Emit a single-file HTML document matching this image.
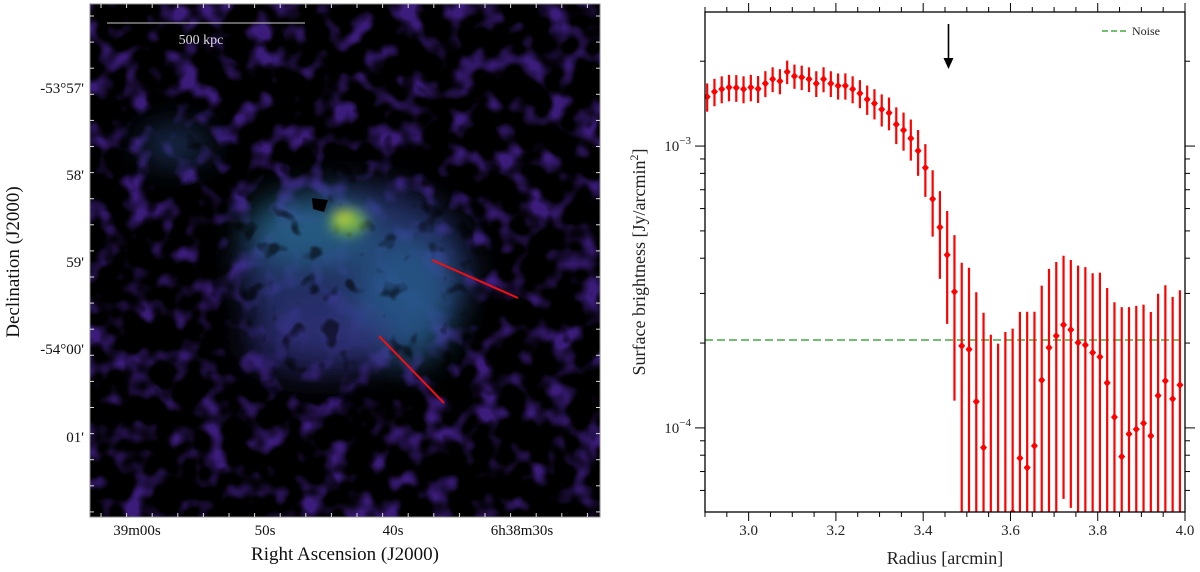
<!DOCTYPE html>
<html><head><meta charset="utf-8"><style>
html,body{margin:0;padding:0;background:#fff;width:1200px;height:572px;overflow:hidden}
svg{display:block;font-family:"Liberation Serif","DejaVu Serif",serif}
</style></head><body>
<svg id="fig" width="1200" height="572" viewBox="0 0 1200 572">
<defs>
<filter id="noise" x="0" y="0" width="100%" height="100%" color-interpolation-filters="sRGB">
<feTurbulence type="fractalNoise" baseFrequency="0.04" numOctaves="2" seed="7" result="t"/>
<feColorMatrix in="t" type="matrix" values="0 0 0 0 0.23  0 0 0 0 0.11  0 0 0 0 0.48  4 0 0 0 -1.95" result="c"/>
</filter>
<filter id="noise2" x="0" y="0" width="100%" height="100%" color-interpolation-filters="sRGB">
<feTurbulence type="fractalNoise" baseFrequency="0.05" numOctaves="2" seed="3" result="t"/>
<feColorMatrix in="t" type="matrix" values="0 0 0 0 0  0 0 0 0 0  0 0 0 0 0  -6 0 0 0 2.4"/>
</filter>
<filter id="blur8" x="-50%" y="-50%" width="200%" height="200%"><feGaussianBlur stdDeviation="16"/></filter>
<filter id="blur4" x="-100%" y="-100%" width="300%" height="300%"><feGaussianBlur stdDeviation="6"/></filter>
<clipPath id="imgclip"><rect x="90" y="4" width="510" height="513"/></clipPath>
<clipPath id="plotclip"><rect x="705" y="12" width="480" height="500"/></clipPath>
</defs>

<g clip-path="url(#imgclip)">
<rect x="90" y="4" width="510" height="513" fill="#000"/>
<rect x="90" y="4" width="510" height="513" filter="url(#noise)"/>
<g filter="url(#blur8)">
<ellipse cx="355" cy="270" rx="115" ry="85" fill="#2f3f88" opacity="0.7"/>
<ellipse cx="405" cy="300" rx="50" ry="65" fill="#2a5f8e" opacity="0.75"/>
<ellipse cx="310" cy="230" rx="65" ry="35" fill="#2a6a8c" opacity="0.75"/>
<ellipse cx="175" cy="145" rx="35" ry="18" fill="#2c5090" opacity="0.6"/>
<ellipse cx="320" cy="340" rx="75" ry="35" fill="#30307a" opacity="0.7"/>
</g>
<rect x="90" y="4" width="510" height="513" filter="url(#noise2)" opacity="0.55"/>
<g filter="url(#blur4)">
<ellipse cx="348" cy="222" rx="18" ry="13" fill="#6fae4a"/>
<ellipse cx="343" cy="217" rx="8" ry="6" fill="#c8d838"/>
</g>
<polygon points="312,198 328,200 324,212 313,209" fill="#000"/>
<line x1="107" y1="23" x2="305" y2="23" stroke="#ccc" stroke-width="1"/>
<text x="201" y="44" font-size="14" fill="#ddd" text-anchor="middle">500 kpc</text>
<line x1="432" y1="260" x2="518" y2="298" stroke="#f01010" stroke-width="2"/>
<line x1="379" y1="336" x2="444" y2="403" stroke="#f01010" stroke-width="2"/>
</g>
<rect x="90" y="4" width="510" height="513" fill="none" stroke="#888" stroke-width="1"/>
<g id="imgticks"></g>
<g font-size="15" fill="#111">
<text x="84" y="93" text-anchor="end">-53°57'</text>
<text x="84" y="180" text-anchor="end">58'</text>
<text x="84" y="267" text-anchor="end">59'</text>
<text x="84" y="354" text-anchor="end">-54°00'</text>
<text x="84" y="442" text-anchor="end">01'</text>
</g>
<g font-size="15" fill="#111" text-anchor="middle">
<text x="137" y="535">39m00s</text>
<text x="265" y="535">50s</text>
<text x="393" y="535">40s</text>
<text x="522" y="535">6h38m30s</text>
</g>
<text x="345" y="560" font-size="19" text-anchor="middle" fill="#111">Right Ascension (J2000)</text>
<text transform="translate(19,262) rotate(-90)" font-size="19" text-anchor="middle" fill="#111">Declination (J2000)</text>

<g>
<g id="ticks"></g>
<line id="noiseline" stroke="#5cb85c" stroke-width="1.8" stroke-dasharray="8,4"/>
<g id="series" clip-path="url(#plotclip)"></g>
<rect x="705" y="12" width="480" height="500" fill="none" stroke="#000" stroke-width="1.3"/>
<g id="arrow"></g>
<line x1="1102" y1="31" x2="1126" y2="31" stroke="#5cb85c" stroke-width="1.8" stroke-dasharray="6,3"/>
<text x="1132" y="35" font-size="12" fill="#222">Noise</text>
<text transform="translate(645,262) rotate(-90)" font-size="18" text-anchor="middle" fill="#222">Surface brightness [Jy/arcmin<tspan dy="-7" font-size="12">2</tspan><tspan dy="7">]</tspan></text>
<text x="945" y="564" font-size="18" text-anchor="middle" fill="#222">Radius [arcmin]</text>
</g>
</svg>
<script>
const NS='http://www.w3.org/2000/svg';
const values=[1.496e-3,1.558e-3,1.593e-3,1.615e-3,1.610e-3,1.593e-3,1.615e-3,1.597e-3,1.668e-3,1.728e-3,1.700e-3,1.834e-3,1.771e-3,1.754e-3,1.728e-3,1.668e-3,1.728e-3,1.668e-3,1.636e-3,1.636e-3,1.593e-3,1.538e-3,1.465e-3,1.417e-3,1.349e-3,1.312e-3,1.194e-3,1.139e-3,1.065e-3,9.62e-4,8.38e-4,6.49e-4,5.15e-4,4.11e-4,3.04e-4,1.954e-4,1.90e-4,1.24e-4,8.51e-5,4.0e-5,3.5e-5,4.2e-5,5.01e-5,7.81e-5,7.23e-5,8.63e-5,1.477e-4,1.927e-4,2.12e-4,2.32e-4,2.23e-4,2.006e-4,1.968e-4,1.849e-4,1.786e-4,1.445e-4,1.092e-4,7.91e-5,9.51e-5,9.89e-5,1.039e-4,9.37e-5,1.302e-4,1.468e-4,1.267e-4,1.419e-4];
const errors=[1.72e-4,1.74e-4,1.75e-4,1.74e-4,1.75e-4,1.75e-4,1.74e-4,1.75e-4,1.76e-4,1.75e-4,1.74e-4,1.76e-4,1.75e-4,1.75e-4,1.74e-4,1.75e-4,1.76e-4,1.75e-4,1.74e-4,1.75e-4,1.75e-4,1.76e-4,1.75e-4,1.74e-4,1.76e-4,1.75e-4,1.78e-4,1.76e-4,1.77e-4,1.78e-4,1.78e-4,1.72e-4,1.77e-4,1.77e-4,1.79e-4,1.90e-4,1.80e-4,1.79e-4,1.71e-4,1.74e-4,1.64e-4,1.77e-4,1.75e-4,1.80e-4,1.86e-4,1.72e-4,1.72e-4,1.74e-4,1.76e-4,1.76e-4,1.71e-4,1.76e-4,1.75e-4,1.69e-4,1.77e-4,1.69e-4,1.70e-4,1.89e-4,1.73e-4,1.72e-4,1.70e-4,1.64e-4,1.69e-4,1.74e-4,1.65e-4,1.66e-4];
const radiusStart=2.905;
const radiusStep=1/60;
const noiseLevel=2.05e-4;
const arrowRadius=3.458;
const xTickLabels=['3.0','3.2','3.4','3.6','3.8','4.0'];

const X0=705,X1=1185,Y0=12,Y1=512,xmin=2.9,xmax=4.0;
const ytop=Math.log10(2.99e-3),ybot=Math.log10(5.03e-5);
const xs=v=>X0+(v-xmin)/(xmax-xmin)*(X1-X0);
const ys=v=>{if(v<=0)return Y1+4;return Math.min(Y1+4,Y0+(ytop-Math.log10(v))/(ytop-ybot)*(Y1-Y0));};
function mk(tag,attrs,parent){const e=document.createElementNS(NS,tag);for(const k in attrs)e.setAttribute(k,attrs[k]);parent.appendChild(e);return e;}

const ticks=document.getElementById('ticks');
for(let i=0;i<=22;i++){const v=xmin+i*0.05;const x=xs(v);const major=(Math.round(v*100)%20===0);const L=major?9:5;
 mk('line',{x1:x,y1:Y1,x2:x,y2:Y1+L,stroke:'#000','stroke-width':1},ticks);
 mk('line',{x1:x,y1:Y0,x2:x,y2:Y0-L,stroke:'#000','stroke-width':1},ticks);}
xTickLabels.forEach(s=>{const t=mk('text',{x:xs(parseFloat(s)),y:Y1+23,'font-size':15,'text-anchor':'middle',fill:'#222'},ticks);


t.textContent=s;});
for(let d=-5;d<=-3;d++){for(let m=1;m<=9;m++){const v=m*Math.pow(10,d);const lv=Math.log10(v);if(lv>ytop+0.001||lv<ybot-0.001)continue;const y=Y0+(ytop-lv)/(ytop-ybot)*(Y1-Y0);const L=m===1?10:5;
 mk('line',{x1:X0,y1:y,x2:X0-L,y2:y,stroke:'#000','stroke-width':1},ticks);
 mk('line',{x1:X1,y1:y,x2:X1+L,y2:y,stroke:'#000','stroke-width':1},ticks);
 if(m===1){const t=mk('text',{x:X0-14,y:y+5,'font-size':15,'text-anchor':'end',fill:'#222'},ticks);
 
 
 t.appendChild(document.createTextNode('10'));const sp=mk('tspan',{dy:-7,'font-size':11},t);sp.textContent='\u2212'+(-d);}}}

const nl=document.getElementById('noiseline');
nl.setAttribute('x1',X0);nl.setAttribute('x2',X1);nl.setAttribute('y1',ys(noiseLevel));nl.setAttribute('y2',ys(noiseLevel));

const ser=document.getElementById('series');
values.forEach((v,i)=>{const r=radiusStart+i*radiusStep;const x=xs(r);const e=errors[i];
 const bar=mk('line',{x1:x,x2:x,y1:ys(v+e),y2:ys(v-e),stroke:'#ff0000','stroke-width':2.2},ser);
 
 
 const y=ys(v);
 const p=mk('polygon',{points:`${x},${y-4} ${x+3.5},${y} ${x},${y+4} ${x-3.5},${y}`,fill:'#ff0000'},ser);
 
 });

const ar=document.getElementById('arrow');const ax=xs(arrowRadius);
mk('line',{x1:ax,y1:24,x2:ax,y2:60,stroke:'#000','stroke-width':1.6},ar);
mk('polygon',{points:`${ax-5},58 ${ax+5},58 ${ax},69`,fill:'#000'},ar);

const it=document.getElementById('imgticks');
for(let i=0;i<20;i++){const y=4+12+i*26.1;if(y>515)break;mk('line',{x1:90,x2:94,y1:y,y2:y,stroke:'#ddd','stroke-width':1},it);mk('line',{x1:596,x2:600,y1:y,y2:y,stroke:'#ddd','stroke-width':1},it);}
for(let i=0;i<22;i++){const x=101+i*25.6;if(x>598)break;mk('line',{x1:x,x2:x,y1:517,y2:513,stroke:'#ddd','stroke-width':1},it);mk('line',{x1:x,x2:x,y1:4,y2:8,stroke:'#ddd','stroke-width':1},it);}
</script>
</body></html>
